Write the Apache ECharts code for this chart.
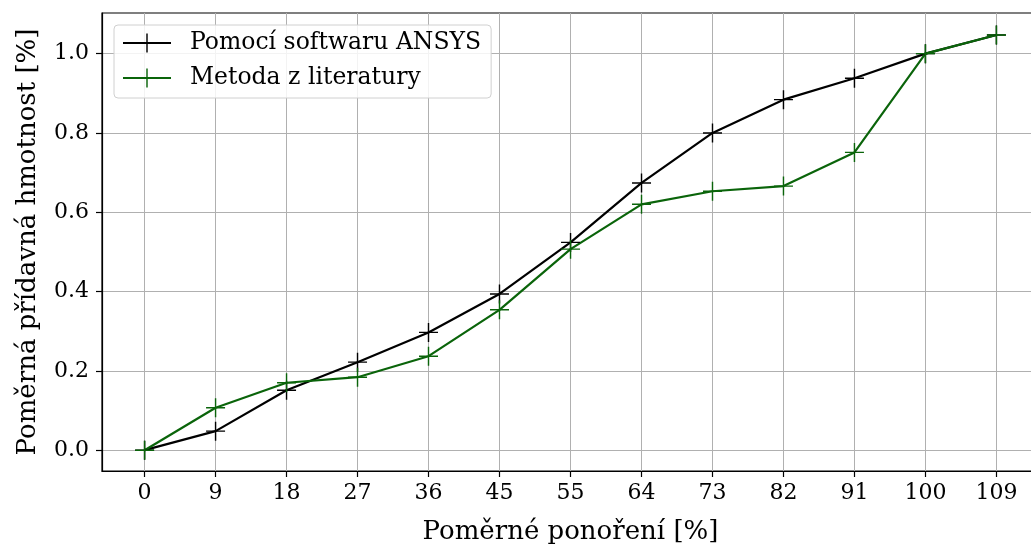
<!DOCTYPE html>
<html>
<head>
<meta charset="utf-8">
<script src="https://cdn.jsdelivr.net/npm/echarts@6/dist/echarts.min.js"></script>
<style>
  html, body { margin: 0; padding: 0; background: #fff; }
  #chart { width: 1031px; height: 544px; }
</style>
</head>
<body>
<div id="chart"></div>
<script>
// Relative immersion [%] (evenly spaced steps of 100/11)
const immersion = [0, 9.09, 18.18, 27.27, 36.36, 45.45, 54.55, 63.64, 72.73, 81.82, 90.91, 100, 109.09];
// Relative added mass [%]
const ansysValues = [0.0, 0.048, 0.151, 0.222, 0.297, 0.394, 0.524, 0.674, 0.800, 0.884, 0.938, 1.0, 1.047];
const literatureValues = [0.0, 0.107, 0.170, 0.184, 0.237, 0.354, 0.507, 0.620, 0.653, 0.666, 0.751, 1.0, 1.047];
const yTicks = [0.0, 0.2, 0.4, 0.6, 0.8, 1.0];

const seriesNames = ['Pomocí softwaru ANSYS', 'Metoda z literatury'];
const xName = 'Poměrné ponoření [%]';
const yName = 'Poměrná přídavná hmotnost [%]';

const FONT = 'DejaVu Serif';
const CROSS = 'path://M-0.75,-10 L0.75,-10 L0.75,10 L-0.75,10 Z M-10,-0.75 L10,-0.75 L10,0.75 L-10,0.75 Z';

const xStep = 100 / 11;
const xMin = -0.6 * xStep, xMax = 109.09 + 0.6 * xStep;
const yMin = -0.0525, yMax = 1.1025;

const pairs = (xs, ys) => xs.map((x, i) => [x, ys[i]]);

function lineSeries(name, values, color) {
  return {
    name: name,
    type: 'line',
    data: pairs(immersion, values),
    symbol: CROSS,
    symbolSize: 19,
    showAllSymbol: true,
    lineStyle: { color: color, width: 2.2 },
    itemStyle: { color: color },
    emphasis: { disabled: true },
    animation: false,
    z: 3
  };
}

const axisLineStyle = { color: '#000', width: 1.2 };

const chart = echarts.init(document.getElementById('chart'), null, { renderer: 'canvas' });
chart.setOption({
  backgroundColor: '#ffffff',
  animation: false,
  grid: {
    left: 102, top: 13, bottom: 73, right: -8,
    outerBoundsMode: 'none',
    containLabel: false,
    show: true, borderColor: '#000', borderWidth: 1.2, backgroundColor: 'transparent'
  },
  legend: {
    left: 114, top: 25,
    orient: 'vertical',
    padding: [6, 10, 8, 8],
    itemWidth: 48, itemHeight: 24, itemGap: 11,
    backgroundColor: 'rgba(255,255,255,0.85)',
    borderColor: '#d0d0d0', borderWidth: 1, borderRadius: 4,
    textStyle: { fontFamily: FONT, fontSize: 23.5, color: '#000', padding: [0, 0, 0, 14] },
    data: seriesNames
  },
  xAxis: {
    type: 'value',
    min: xMin, max: xMax,
    name: xName,
    nameLocation: 'middle',
    nameGap: 48,
    nameTextStyle: { fontFamily: FONT, fontSize: 26, color: '#000' },
    axisLine: { show: true, onZero: false, lineStyle: axisLineStyle },
    axisTick: { show: true, length: 6, lineStyle: axisLineStyle, customValues: immersion },
    axisLabel: {
      fontFamily: FONT, fontSize: 22, color: '#000', margin: 11,
      customValues: immersion,
      formatter: v => String(Math.round(v))
    },
    splitLine: { show: true, lineStyle: { color: '#b0b0b0', width: 1 } }
  },
  yAxis: {
    type: 'value',
    min: yMin, max: yMax,
    name: yName,
    nameLocation: 'middle',
    nameGap: 61,
    nameTextStyle: { fontFamily: FONT, fontSize: 26, color: '#000' },
    axisLine: { show: true, onZero: false, lineStyle: axisLineStyle },
    axisTick: { show: true, length: 6, lineStyle: axisLineStyle, customValues: yTicks },
    axisLabel: {
      fontFamily: FONT, fontSize: 22, color: '#000', margin: 13,
      customValues: yTicks,
      formatter: v => v.toFixed(1)
    },
    splitLine: { show: true, lineStyle: { color: '#b0b0b0', width: 1 } }
  },
  series: [
    lineSeries(seriesNames[0], ansysValues, '#000000'),
    lineSeries(seriesNames[1], literatureValues, '#0a640a')
  ]
});
</script>
</body>
</html>
